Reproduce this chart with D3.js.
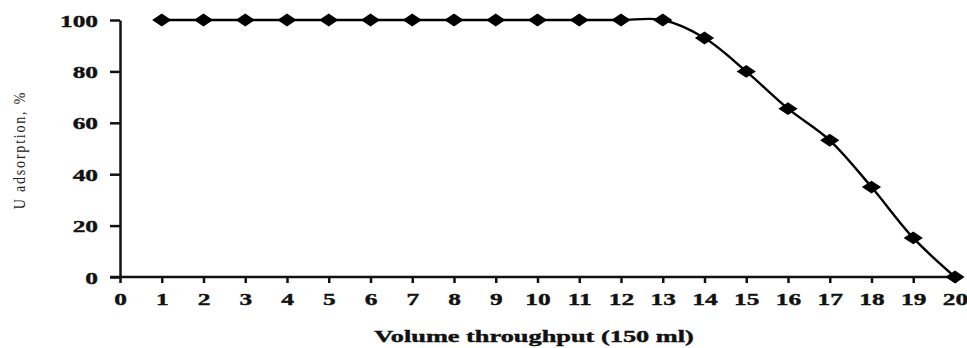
<!DOCTYPE html>
<html>
<head>
<meta charset="utf-8">
<script src="https://cdn.jsdelivr.net/npm/d3@7"></script>
<style>
	body { margin: 0; background: #fff; }
	svg { display: block; }
	.tick text { font-family: "Liberation Serif", "Times New Roman", serif; font-weight: bold; font-size: 17.5px; fill: #111; stroke: #111; stroke-width: 0.4px; }
	.domain, .tick line { stroke: #111; stroke-width: 2.5px; }
</style>
</head>
<body>
<div id="chart"></div>
<script>
"use strict";

const volumes = [1, 2, 3, 4, 5, 6, 7, 8, 9, 10, 11, 12, 13, 14, 15, 16, 17, 18, 19, 20];
const adsorption = [100, 100, 100, 100, 100, 100, 100, 100, 100, 100, 100, 100, 100, 93, 80, 65.5, 53.2, 35, 15.2, 0];
const xTicks = d3.range(0, 21);
const yTicks = [0, 20, 40, 60, 80, 100];

const width = 967, height = 348;
const stretch = 1.45;

let svg = d3.select('#chart').append('svg')
	.attr('width', width)
	.attr('height', height);

let x = d3.scaleLinear().domain([0, 20]).range([120, 955]);
let y = d3.scaleLinear().domain([0, 100]).range([277, 20]);

//---- Axes
let xAxis = svg.append('g')
	.attr('transform', `translate(0, ${y(0)})`)
	.call(d3.axisBottom(x).tickValues(xTicks).tickSize(6).tickSizeOuter(0).tickFormat(d3.format('d')));
xAxis.select('.domain').attr('d', `M${x(0) - 10},0H${x(20)}`);
xAxis.selectAll('.tick text')
	.attr('y', 22)
	.attr('dy', '0.35em')
	.attr('transform', `scale(${stretch},1)`);

let yAxis = svg.append('g')
	.attr('transform', `translate(${x(0)}, 0)`)
	.call(d3.axisLeft(y).tickValues(yTicks).tickSize(10).tickSizeOuter(0));
yAxis.selectAll('.tick text')
	.attr('x', 0)
	.attr('dy', '0.35em')
	.attr('transform', `translate(-22, 0) scale(${stretch},1)`);

//---- Titles
svg.append('text')
	.attr('transform', `translate(534, 342) scale(1.55,1)`)
	.attr('text-anchor', 'middle')
	.style('font-family', '"Liberation Serif", serif')
	.style('font-weight', 'bold')
	.style('font-size', '17px')
	.style('fill', '#111')
	.style('stroke', '#111')
	.style('stroke-width', '0.4px')
	.text('Volume throughput (150 ml)');

svg.append('text')
	.attr('transform', `translate(25, 150) rotate(-90) scale(1,1.25)`)
	.attr('text-anchor', 'middle')
	.style('font-family', '"Liberation Serif", serif')
	.style('font-size', '14px')
	.style('letter-spacing', '1.8px')
	.style('fill', '#222')
	.text('U adsorption, %');

//---- Series
let points = volumes.map((v, i) => ({ x: v, y: adsorption[i] }));

svg.append('path')
	.datum(points)
	.attr('fill', 'none')
	.attr('stroke', '#000')
	.attr('stroke-width', 2.4)
	.attr('d', d3.line()
		.x(d => x(d.x))
		.y(d => y(d.y))
		.curve(d3.curveCatmullRom));

svg.selectAll('.marker')
	.data(points)
	.join('path')
	.classed('marker', true)
	.attr('d', d3.symbol(d3.symbolDiamond2).size(105))
	.attr('transform', d => `translate(${x(d.x)}, ${y(d.y)}) scale(1.5,1)`)
	.attr('fill', '#000');
</script>
</body>
</html>
